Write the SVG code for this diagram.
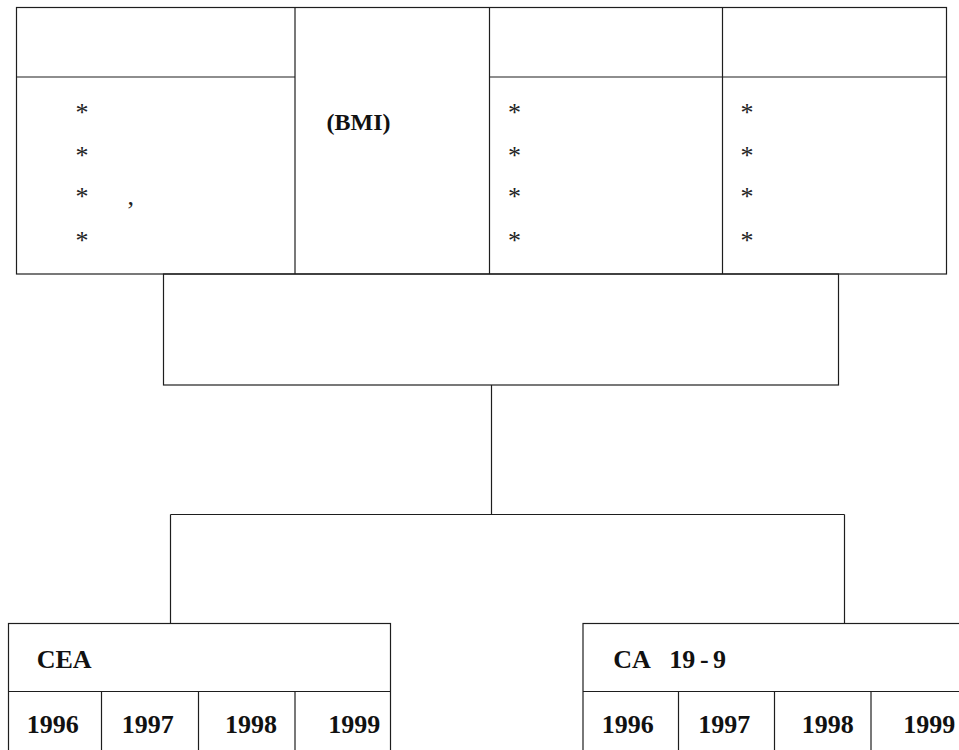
<svg xmlns="http://www.w3.org/2000/svg" width="959" height="750" viewBox="0 0 959 750">
<style>
.ln{fill:none;stroke:#1e1e1e;stroke-width:1.2}
.ast{font-family:'Liberation Serif','Times New Roman','DejaVu Serif',serif;font-size:26px;fill:#222}
.lbl{font-family:'Liberation Serif','Times New Roman','DejaVu Serif',serif;font-size:26px;font-weight:bold;fill:#111}
.bmi{font-family:'Liberation Serif','Times New Roman','DejaVu Serif',serif;font-size:23px;font-weight:bold;fill:#111}
</style>
<rect width="959" height="750" fill="#ffffff"/>
<g id="top-table">
  <rect class="ln" x="16.5" y="7.5" width="930" height="266.5"/>
  <line class="ln" x1="295" y1="7.5" x2="295" y2="274"/>
  <line class="ln" x1="489.5" y1="7.5" x2="489.5" y2="274"/>
  <line class="ln" x1="722.5" y1="7.5" x2="722.5" y2="274"/>
  <line class="ln" x1="16.5" y1="77" x2="295" y2="77"/>
  <line class="ln" x1="489.5" y1="77" x2="946.5" y2="77"/>
  <g id="col1">
    <text class="ast" x="75.5" y="120.8">*</text>
    <text class="ast" x="75.5" y="163.8">*</text>
    <text class="ast" x="75.5" y="205.1">*</text>
    <text class="ast" x="127.5" y="204.5">,</text>
    <text class="ast" x="75.5" y="248.8">*</text>
  </g>
  <g id="col2">
    <text class="bmi" x="326.5" y="129.5" textLength="64" lengthAdjust="spacingAndGlyphs">(BMI)</text>
  </g>
  <g id="col3">
    <text class="ast" x="508" y="120.8">*</text>
    <text class="ast" x="508" y="163.8">*</text>
    <text class="ast" x="508" y="205.1">*</text>
    <text class="ast" x="508" y="248.8">*</text>
  </g>
  <g id="col4">
    <text class="ast" x="740.5" y="120.8">*</text>
    <text class="ast" x="740.5" y="163.8">*</text>
    <text class="ast" x="740.5" y="205.1">*</text>
    <text class="ast" x="740.5" y="248.8">*</text>
  </g>
</g>
<g id="middle-box">
  <rect class="ln" x="163.5" y="274" width="675" height="111"/>
</g>
<g id="connectors">
  <line class="ln" x1="491.5" y1="385" x2="491.5" y2="514.5"/>
  <line class="ln" x1="170.5" y1="514.5" x2="844.5" y2="514.5"/>
  <line class="ln" x1="170.5" y1="514.5" x2="170.5" y2="624"/>
  <line class="ln" x1="844.5" y1="514.5" x2="844.5" y2="624"/>
</g>
<g id="cea-table">
  <rect class="ln" x="8.5" y="623.5" width="382" height="140"/>
  <line class="ln" x1="8.5" y1="691.5" x2="390.5" y2="691.5"/>
  <line class="ln" x1="101.5" y1="691.5" x2="101.5" y2="760"/>
  <line class="ln" x1="198.5" y1="691.5" x2="198.5" y2="760"/>
  <line class="ln" x1="295" y1="691.5" x2="295" y2="760"/>
  <text class="lbl" x="36.7" y="667.7">CEA</text>
  <text class="lbl" x="26.7" y="732.7">1996</text>
  <text class="lbl" x="121.7" y="732.7">1997</text>
  <text class="lbl" x="225" y="732.7">1998</text>
  <text class="lbl" x="328.3" y="732.7">1999</text>
</g>
<g id="ca199-table">
  <rect class="ln" x="583" y="623.5" width="420" height="140"/>
  <line class="ln" x1="583" y1="691.5" x2="1003" y2="691.5"/>
  <line class="ln" x1="678.5" y1="691.5" x2="678.5" y2="760"/>
  <line class="ln" x1="774.5" y1="691.5" x2="774.5" y2="760"/>
  <line class="ln" x1="871" y1="691.5" x2="871" y2="760"/>
  <text class="lbl" y="667.7"><tspan x="613.3">CA</tspan><tspan x="669.3">19</tspan><tspan x="700">-</tspan><tspan x="713">9</tspan></text>
  <text class="lbl" x="601.7" y="732.7">1996</text>
  <text class="lbl" x="698.3" y="732.7">1997</text>
  <text class="lbl" x="801.7" y="732.7">1998</text>
  <text class="lbl" x="903.3" y="732.7">1999</text>
</g>
</svg>
